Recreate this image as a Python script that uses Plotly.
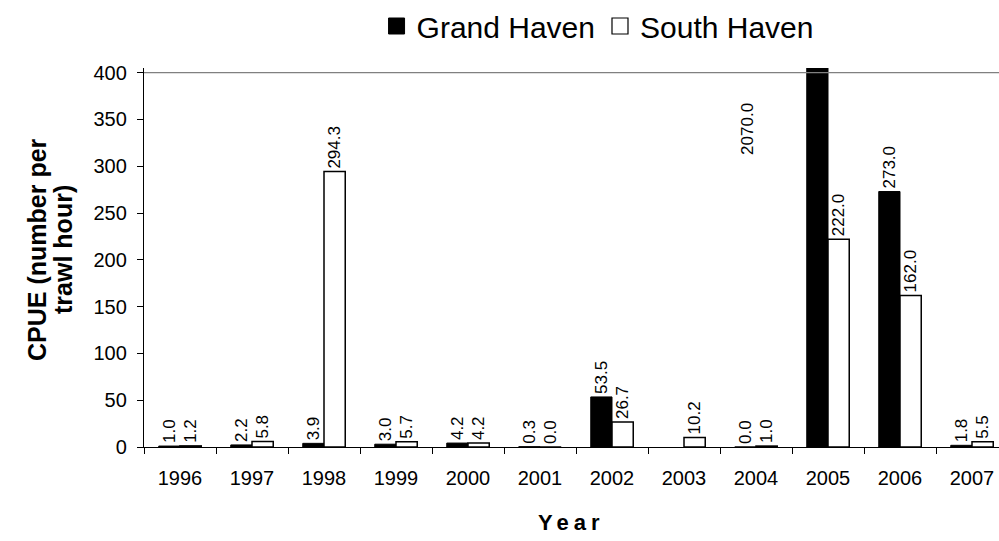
import plotly.graph_objects as go

years = ["1996", "1997", "1998", "1999", "2000", "2001", "2002",
         "2003", "2004", "2005", "2006", "2007"]
grand_haven = [1.0, 2.2, 3.9, 3.0, 4.2, 0.3, 53.5, None, 0.0, 2070.0, 273.0, 1.8]
south_haven = [1.2, 5.8, 294.3, 5.7, 4.2, 0.0, 26.7, 10.2, 1.0, 222.0, 162.0, 5.5]
y_ticks = [0, 50, 100, 150, 200, 250, 300, 350, 400]
y_max = 400

FONT = "Liberation Sans, Arial, sans-serif"

def fmt(v):
    return "" if v is None else f"{v:.1f}"

gh_text = [fmt(v) if (v is None or v <= y_max) else "" for v in grand_haven]
sh_text = [fmt(v) for v in south_haven]

fig = go.Figure()
fig.add_trace(go.Bar(
    x=years, y=grand_haven, name="Grand Haven", showlegend=False,
    marker=dict(color="black", line=dict(color="black", width=1)),
    text=gh_text, textposition="outside", textangle=-90, constraintext="none",
    textfont=dict(family=FONT, size=17, color="black"),
))
fig.add_trace(go.Bar(
    x=years, y=south_haven, name="South Haven", showlegend=False,
    marker=dict(color="white", line=dict(color="black", width=1.5)),
    text=sh_text, textposition="outside", textangle=-90, constraintext="none",
    textfont=dict(family=FONT, size=17, color="black"),
))
# legend entries
fig.add_trace(go.Scatter(x=[None], y=[None], mode="markers", name="Grand Haven",
                         marker=dict(symbol="square", size=16, color="black",
                                     line=dict(color="black", width=1))))
fig.add_trace(go.Scatter(x=[None], y=[None], mode="markers", name="South Haven",
                         marker=dict(symbol="square", size=16, color="white",
                                     line=dict(color="black", width=1.2))))

# label for the off-scale bar (moved beside it, as in the original)
for i, v in enumerate(grand_haven):
    if v is not None and v > y_max:
        fig.add_annotation(x=i - 1.11, y=340, xref="x", yref="y", text=fmt(v),
                           textangle=-90, showarrow=False,
                           font=dict(family=FONT, size=17, color="black"))

# top border line of plot area
fig.add_shape(type="line", xref="paper", yref="y", x0=0, x1=1, y0=y_max, y1=y_max,
              line=dict(color="#808080", width=1.3))

# y-axis title (two lines)
fig.add_annotation(x=-0.1251, y=0.52, xref="paper", yref="paper", text="<b>CPUE (number per</b>",
                   textangle=-90, showarrow=False, xanchor="center", yanchor="middle",
                   font=dict(family=FONT, size=25, color="black"))
fig.add_annotation(x=-0.0947, y=0.52, xref="paper", yref="paper", text="<b>trawl hour)</b>",
                   textangle=-90, showarrow=False, xanchor="center", yanchor="middle",
                   font=dict(family=FONT, size=25, color="black"))
# x-axis title
fig.add_annotation(x=0.5, y=-0.198, xref="paper", yref="paper",
                   text="<b><span style='letter-spacing:5px'>Year</span></b>",
                   showarrow=False, xanchor="center", yanchor="middle",
                   font=dict(family=FONT, size=22, color="black"))

fig.update_layout(
    width=999, height=541,
    margin=dict(l=144, r=0, t=68, b=94),
    paper_bgcolor="white", plot_bgcolor="white",
    barmode="group", bargap=0.41, bargroupgap=0,
    font=dict(family=FONT, color="black"),
    legend=dict(orientation="h", x=0.272, xanchor="left", y=1.18, yanchor="top",
                font=dict(family=FONT, size=30, color="black"), itemsizing="trace",
                bgcolor="rgba(0,0,0,0)"),
    xaxis=dict(type="category", range=[-0.5, 11.375], tickson="boundaries",
               ticks="outside", ticklen=6, tickcolor="black", tickwidth=1,
               showline=True, linecolor="black", linewidth=1.3, showgrid=False,
               tickfont=dict(family=FONT, size=20, color="black"), ticklabelstandoff=13),
    yaxis=dict(range=[0, 405], tickvals=y_ticks, ticks="outside", ticklen=6,
               tickcolor="black", tickwidth=1, showline=True, linecolor="black",
               linewidth=1.3, showgrid=False, zeroline=False,
               tickfont=dict(family=FONT, size=20, color="black"), ticklabelstandoff=6),
)

fig.write_html("out.html", config={"displayModeBar": False},
               post_script="document.body.style.margin='0';document.body.style.overflow='hidden';")
